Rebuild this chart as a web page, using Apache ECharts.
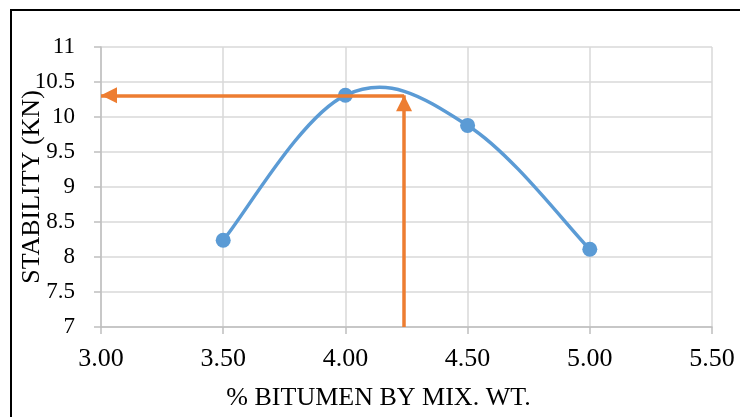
<!DOCTYPE html>
<html>
<head>
<meta charset="utf-8">
<script src="https://cdn.jsdelivr.net/npm/echarts@6/dist/echarts.min.js"></script>
<style>html,body{margin:0;padding:0;background:#fff;}#c{width:740px;height:417px;}</style>
</head>
<body>
<div id="c"></div>
<script>
var bitumen = [3.5, 4.0, 4.5, 5.0];
var stability = [8.24, 10.31, 9.88, 8.11];
var optimumBitumen = 4.24;
var optimumStability = 10.31;
var xTitle = '% BITUMEN BY MIX. WT.';
var yTitle = 'STABILITY (KN)';

var chart = echarts.init(document.getElementById('c'));
var font = 'Liberation Serif, Times New Roman, serif';
var pts = bitumen.map(function (x, i) { return [x, stability[i]]; });

function renderCurve(params, api) {
  var i = params.dataIndex, n = bitumen.length;
  if (i >= n - 1) return null;
  function P(j) {
    j = Math.max(0, Math.min(n - 1, j));
    return api.coord([bitumen[j], stability[j]]);
  }
  var p0 = P(i - 1), p1 = P(i), p2 = P(i + 1), p3 = P(i + 2);
  var k = 1 / 5.5;
  return {
    type: 'bezierCurve',
    shape: {
      x1: p1[0], y1: p1[1], x2: p2[0], y2: p2[1],
      cpx1: p1[0] + (p2[0] - p0[0]) * k, cpy1: p1[1] + (p2[1] - p0[1]) * k,
      cpx2: p2[0] - (p3[0] - p1[0]) * k, cpy2: p2[1] - (p3[1] - p1[1]) * k
    },
    style: {stroke: '#5b9bd5', lineWidth: 3.5, fill: null}
  };
}

chart.setOption({
  animation: false,
  backgroundColor: '#fff',
  graphic: [{
    type: 'rect', z: 100, silent: true,
    shape: {x: 11, y: 10, width: 800, height: 500},
    style: {fill: 'none', stroke: '#000', lineWidth: 2}
  }],
  grid: {left: 101, top: 47, right: 28, bottom: 90, outerBoundsMode: 'none', containLabel: false},
  xAxis: {
    type: 'value', min: 3, max: 5.5, interval: 0.5,
    name: xTitle, nameLocation: 'middle', nameGap: 58, nameMoveOverlap: false,
    nameTextStyle: {fontFamily: font, fontSize: 26, color: '#000', padding: [0, 56, 0, 0]},
    axisLine: {show: true, lineStyle: {color: '#bfbfbf', width: 1.5}},
    axisTick: {show: true, length: 7, lineStyle: {color: '#bfbfbf', width: 1.5}},
    axisLabel: {fontFamily: font, fontSize: 26, color: '#000', margin: 19,
      formatter: function (v) { return v.toFixed(2); }},
    splitLine: {show: true, lineStyle: {color: '#d9d9d9', width: 1.5}}
  },
  yAxis: {
    type: 'value', min: 7, max: 11, interval: 0.5,
    name: yTitle, nameLocation: 'middle', nameGap: 56, nameRotate: 90, nameMoveOverlap: false,
    nameTextStyle: {fontFamily: font, fontSize: 26, color: '#000'},
    axisLine: {show: true, lineStyle: {color: '#bfbfbf', width: 1.5}},
    axisTick: {show: true, length: 7, lineStyle: {color: '#bfbfbf', width: 1.5}},
    axisLabel: {fontFamily: font, fontSize: 23, color: '#000', margin: 26},
    splitLine: {show: true, lineStyle: {color: '#d9d9d9', width: 1.5}}
  },
  series: [{
    type: 'custom',
    coordinateSystem: 'cartesian2d',
    data: pts,
    encode: {x: 0, y: 1},
    renderItem: renderCurve,
    silent: true,
    z: 2
  }, {
    type: 'scatter',
    data: pts,
    symbol: 'circle', symbolSize: 15,
    itemStyle: {color: '#5b9bd5', opacity: 1},
    z: 3
  }, {
    type: 'line',
    data: [],
    markLine: {
      silent: true,
      symbol: ['none', 'triangle'],
      symbolSize: [16, 16],
      symbolOffset: [[0, 0], [0, 8]],
      label: {show: false},
      lineStyle: {color: '#ed7d31', width: 3.5, type: 'solid'},
      data: [
        [{coord: [optimumBitumen, optimumStability]}, {coord: [3, optimumStability]}],
        [{coord: [optimumBitumen, 7]}, {coord: [optimumBitumen, optimumStability]}]
      ]
    },
    z: 4
  }]
});
</script>
</body>
</html>
